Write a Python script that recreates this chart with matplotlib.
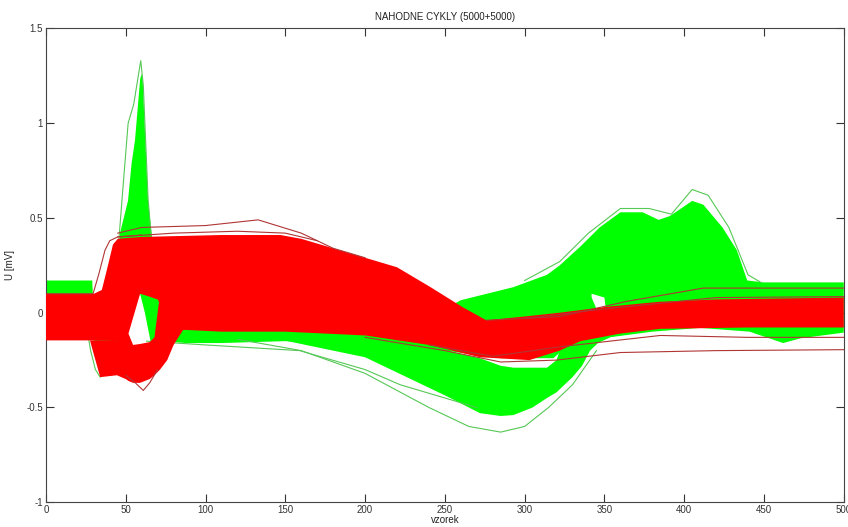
import numpy as np
import matplotlib
matplotlib.use("Agg")
import matplotlib.pyplot as plt

# ── data (envelopes of the 5000+5000 cycles) ────────────────────────────────
# green bundle: upper and lower edge
g_hi_x = [0, 29, 29.6, 44, 46.4, 51.4, 53.7, 55.8, 59, 59.8, 60.6, 64, 66.2, 70, 76,
          150, 250, 260, 293, 314, 322, 335, 347, 360, 374, 384, 391, 405, 412,
          424, 433, 439.5, 450, 500]
g_hi_y = [0.17, 0.17, 0.05, 0.05, 0.42, 0.59, 0.79, 0.91, 1.23, 1.26, 1.23, 0.59, 0.42,
          0.1, 0.0, 0.0, 0.02, 0.066, 0.135, 0.2, 0.25, 0.35, 0.45, 0.53, 0.53, 0.49,
          0.51, 0.59, 0.57, 0.45, 0.33, 0.17, 0.16, 0.16]
g_lo_x = [0, 29, 34, 45, 50, 53, 56, 59, 62, 66, 72, 88, 110, 150, 200, 250, 285, 318,
          330, 340, 342, 350, 353, 380, 410, 441, 462, 473, 500]
g_lo_y = [-0.13, -0.13, -0.2, -0.2, -0.1, 0.0, 0.1, 0.1, 0.0, -0.17, -0.15, -0.16,
          -0.16, -0.15, -0.17, -0.2, -0.24, -0.24, -0.15, -0.1, 0.1, 0.08, -0.13, -0.1,
          -0.08, -0.1, -0.16, -0.135, -0.105]

# green negative-T branch
gn_x = [140, 200, 251, 272, 285, 293, 305, 314, 320, 330, 336, 341, 346, 353.6]
gn_lo = [-0.13, -0.235, -0.44, -0.53, -0.545, -0.54, -0.5, -0.45, -0.42, -0.34,
         -0.28, -0.2, -0.16, -0.13]
gn_hi = [-0.1, -0.12, -0.2, -0.24, -0.28, -0.29, -0.29, -0.29, -0.25, 0.0, 0.1,
         0.1, 0.0, -0.13]

# red bundle, main branch
r_hi_x = [0, 30, 35, 38, 42, 45, 60, 110, 147, 160, 180, 200, 220, 241, 261, 276,
          300, 322, 350, 385, 420, 460, 500]
r_hi_y = [0.1, 0.1, 0.12, 0.22, 0.36, 0.39, 0.4, 0.41, 0.41, 0.39, 0.34, 0.29, 0.24,
          0.135, 0.03, -0.04, -0.02, 0.0, 0.03, 0.058, 0.07, 0.075, 0.08]
r_lo_x = [0, 30, 45, 51.7, 59, 63, 70, 76, 86, 110, 150, 200, 240, 272, 303, 322,
          335, 360, 385, 440, 500]
r_lo_y = [-0.146, -0.146, -0.15, -0.11, 0.1, 0.09, 0.07, -0.02, -0.09, -0.1, -0.1,
          -0.12, -0.17, -0.235, -0.25, -0.2, -0.15, -0.11, -0.085, -0.078, -0.078]

# red bundle, branch with the deep dip (Q) before the rise
rd_x = [27.6, 30, 34, 44.5, 50, 51.7, 54.6, 59, 65, 68, 71.5, 76, 80, 86, 90]
rd_lo = [-0.146, -0.22, -0.34, -0.33, -0.35, -0.36, -0.37, -0.37, -0.35, -0.33,
         -0.3, -0.25, -0.17, -0.09, -0.09]
rd_hi = [-0.146, -0.146, -0.146, -0.15, -0.11, -0.11, -0.17, -0.165, -0.155, -0.13,
         0.1, 0.2, 0.2, 0.2, 0.2]

# single outlying cycles
green_lines = [
    ([44, 47.6, 51.5, 55, 59.4, 61, 64, 67, 72], [0.2, 0.59, 1.0, 1.1, 1.33, 1.2, 0.6, 0.3, 0.0]),
    ([300, 322, 340, 360, 378, 392, 405, 415, 428, 440, 448],
     [0.17, 0.27, 0.42, 0.55, 0.55, 0.52, 0.65, 0.62, 0.45, 0.2, 0.16]),
    ([120, 160, 200, 240, 265, 285, 300, 315, 330, 345],
     [-0.14, -0.2, -0.32, -0.5, -0.6, -0.63, -0.6, -0.5, -0.38, -0.2]),
    ([63, 100, 159, 200, 222, 250, 270], [-0.15, -0.17, -0.2, -0.3, -0.38, -0.45, -0.5]),
    ([26, 28, 31, 34, 38], [-0.1, -0.2, -0.3, -0.34, -0.3]),
]
red_lines = [
    ([0, 29.5, 33, 37, 40, 45, 60], [0.1, 0.1, 0.2, 0.33, 0.38, 0.4, 0.41]),
    ([45, 60, 100, 133, 160, 180, 200], [0.42, 0.45, 0.46, 0.49, 0.42, 0.34, 0.29]),
    ([45, 80, 120, 150, 170], [0.4, 0.42, 0.43, 0.42, 0.38]),
    ([50, 56, 61, 65, 70], [-0.33, -0.37, -0.41, -0.37, -0.3]),
    ([276, 322, 364, 412, 500], [-0.04, -0.02, 0.06, 0.13, 0.13]),
    ([300, 350, 420, 500], [-0.03, 0.02, 0.08, 0.085]),
    ([200, 250, 285, 320, 360, 420, 500], [-0.13, -0.2, -0.26, -0.25, -0.21, -0.2, -0.195]),
    ([240, 280, 322, 385, 440, 500], [-0.17, -0.23, -0.18, -0.12, -0.13, -0.13]),
]

x_ticks = [0, 50, 100, 150, 200, 250, 300, 350, 400, 450, 500]
y_ticks = [-1, -0.5, 0, 0.5, 1, 1.5]
y_tick_labels = ["-1", "-0.5", "0", "0.5", "1", "1.5"]

GREEN = "#00ff00"
RED = "#ff0000"


def band(ax, xh, yh, xl, yl, color, z):
    """Plná plocha mezi horní a dolní obálkou svazku."""
    px = np.concatenate([xh, xl[::-1]])
    py = np.concatenate([yh, yl[::-1]])
    ax.fill(px, py, color=color, lw=0, zorder=z)


plt.rcParams["font.family"] = ["Liberation Sans", "DejaVu Sans"]

fig = plt.figure(figsize=(8.48, 5.27), dpi=100)
ax = fig.add_axes([0.0542, 0.047, 0.9408, 0.899])

band(ax, np.array(g_hi_x), np.array(g_hi_y), np.array(g_lo_x), np.array(g_lo_y), GREEN, 1)
band(ax, np.array(gn_x), np.array(gn_hi), np.array(gn_x), np.array(gn_lo), GREEN, 1)
for xs, ys in green_lines:
    ax.plot(xs, ys, color="#55c855", lw=0.8, zorder=2)

band(ax, np.array(r_hi_x), np.array(r_hi_y), np.array(r_lo_x), np.array(r_lo_y), RED, 3)
band(ax, np.array(rd_x), np.array(rd_hi), np.array(rd_x), np.array(rd_lo), RED, 3)
for xs, ys in red_lines:
    ax.plot(xs, ys, color="#b03535", lw=0.8, zorder=4)

ax.set_xlim(0, 500)
ax.set_ylim(-1, 1.5)
ax.set_xticks(x_ticks)
ax.set_yticks(y_ticks)
ax.set_yticklabels(y_tick_labels)
ax.tick_params(direction="in", length=5.5, width=0.8, top=True, right=True,
               labelsize=7, colors="#333333", pad=2)
for sp in ax.spines.values():
    sp.set_edgecolor("#444444")
    sp.set_linewidth(0.8)

ax.set_title("NAHODNE CYKLY (5000+5000)", fontsize=7, color="#222222", pad=6)
ax.set_xlabel("vzorek", fontsize=7, color="#222222", labelpad=0)
ax.set_ylabel("U [mV]", fontsize=7, color="#222222", labelpad=8)

fig.savefig("out.png", dpi=100)
